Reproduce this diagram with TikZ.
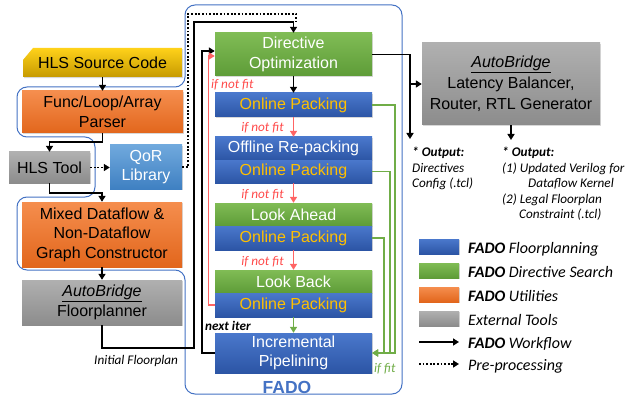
\documentclass[tikz,border=0pt]{standalone}
\usepackage{fontspec}
\setmainfont{Liberation Sans}
\newfontfamily\carl{Carlito}
\usetikzlibrary{arrows.meta,shadows}
\definecolor{fblueA}{HTML}{4A78CC}
\definecolor{fblueB}{HTML}{2C55A5}
\definecolor{fgreenA}{HTML}{80BC55}
\definecolor{fgreenB}{HTML}{5E9C38}
\definecolor{forangeA}{HTML}{F58E4E}
\definecolor{forangeB}{HTML}{E2661C}
\definecolor{fgrayA}{HTML}{B0B0B0}
\definecolor{fgrayB}{HTML}{8C8C8C}
\definecolor{fyellowA}{HTML}{FFD21A}
\definecolor{fyellowB}{HTML}{C69A00}
\definecolor{fqorA}{HTML}{70A9DD}
\definecolor{fqorB}{HTML}{3F80C2}
\definecolor{fgold}{HTML}{FFC000}
\definecolor{fred}{HTML}{FF6464}
\definecolor{fredtxt}{HTML}{FF4B4B}
\definecolor{fgreenline}{HTML}{70AD47}
\definecolor{foutline}{HTML}{4472C4}
\tikzset{
  boxtxt/.style 2 args={rectangle, inner sep=0pt, minimum width=#1pt, minimum height=#2pt,
    align=center, font=\fontsize{16}{19.5}\selectfont},
  box/.style 2 args={boxtxt={#1}{#2},
    drop shadow={opacity=0.3, shadow xshift=1.2pt, shadow yshift=-1.2pt}},
  fbluebox/.style={top color=fblueA, bottom color=fblueB, text=white},
  fgoldbox/.style={top color=fblueA, bottom color=fblueB, text=fgold},
  fgreenbox/.style={top color=fgreenA, bottom color=fgreenB, text=white},
  forangebox/.style={top color=forangeA, bottom color=forangeB, text=black},
  fgraybox/.style={top color=fgrayA, bottom color=fgrayB, text=black},
  fqorbox/.style={top color=fqorA, bottom color=fqorB, text=white},
  flow/.style={line width=1.8pt, -{Triangle[length=6pt,width=7pt]}},
  dotline/.style={line width=1.8pt, dash pattern=on 1.8pt off 1.8pt},
  dotflow/.style={dotline, -{Triangle[length=6pt,width=7pt]}},
  redflow/.style={line width=1.5pt, fred, -{Triangle[length=6pt,width=7pt]}},
  gflow/.style={line width=1.8pt, fgreenline, -{Triangle[length=6pt,width=7pt]}},
  lbl/.style={inner sep=0pt, font=\carl\itshape\fontsize{13.2}{15}\selectfont},
  outtext/.style={anchor=north west, align=left, inner sep=0pt, font=\carl\itshape\fontsize{13.2}{15.5}\selectfont},
  lgtext/.style={anchor=base west, inner sep=0pt, font=\carl\itshape\fontsize{16}{19}\selectfont},
}
\begin{document}
\begin{tikzpicture}[x=1pt, y=-1pt]
\useasboundingbox[fill=white] (0,0) rectangle (628,398);

% FADO outline
\draw[foutline, line width=1pt, rounded corners=10pt]
  (185,5) -- (402,5) -- (402,394) -- (185,394) -- (185,270) -- (17,270)
  -- (17,197) -- (95,197) -- (95,137) -- (17,137) -- (17,87) -- (185,87) -- cycle;
\node[font=\bfseries\fontsize{17.5}{20}\selectfont, text=foutline, anchor=base, inner sep=0pt] (fado) at (287,393) {FADO};

% left column
\path[top color=fyellowA, bottom color=fyellowB, drop shadow={opacity=0.3, shadow xshift=1.2pt, shadow yshift=-1.2pt}]
  (33,48) -- (182,48) -- (182,77) -- (23,77) -- (23,60) -- cycle;
\node[boxtxt={159}{29}, text=black] (src) at (102.5,62.5) {HLS Source Code};
\node[box={161}{42}, forangebox] (parser) at (102.5,112) {Func/Loop/Array\\Parser};
\node[box={81}{31}, fgraybox] (hlstool) at (49.5,167.5) {HLS Tool};
\node[box={72}{44}, fqorbox] (qor) at (146,167) {QoR\\Library};
\node[box={160}{65}, forangebox] (mixed) at (102,234.5) {Mixed Dataflow \&\\Non-Dataflow\\Graph Constructor};
\node[box={160}{45}, fgraybox] (abfp) at (102,302.5) {\underline{\textit{AutoBridge}}\\Floorplanner};

% FADO column
\node[box={157}{43}, fgreenbox] (dopt) at (293.5,54.5) {Directive\\Optimization};
\node[box={157}{24}, fgoldbox] (op1) at (293.5,105) {Online Packing};
\node[box={157}{23}, fbluebox] (orp) at (293.5,148.5) {Offline Re-packing};
\node[box={157}{23}, fgoldbox] (op2) at (293.5,171.5) {Online Packing};
\node[box={157}{23}, fgreenbox] (la) at (293.5,214.5) {Look Ahead};
\node[box={157}{24}, fgoldbox] (op3) at (293.5,238) {Online Packing};
\node[box={157}{23}, fgreenbox] (lb) at (293.5,281.5) {Look Back};
\node[box={157}{24}, fgoldbox] (op4) at (293.5,305) {Online Packing};
\node[box={157}{40}, fbluebox] (ip) at (293.5,353) {Incremental\\Pipelining};

% right box
\node[box={178}{82}, fgraybox, font=\fontsize{16}{21}\selectfont] (ab) at (511,84) {\underline{\textit{AutoBridge}}\\Latency Balancer,\\Router, RTL Generator};

% left column connectors
\draw[flow] (src) -- (parser);
\draw[flow] (parser.south) -- (102.5,142) -- (49.5,142) -- (hlstool.north);
\draw[dotflow] (hlstool.east) -- (qor.west |- hlstool.east);
\draw[flow] (hlstool.south) -- (49.5,193) -- (102,193) -- (mixed.north);
\draw[flow] (mixed) -- (abfp);
\draw[flow] (abfp.south) -- (102,348) -- (194,348) -- (194,22) -- (293.5,22) -- (dopt.north);
\node[lbl, anchor=base west] (initfp) at (94,364) {Initial Floorplan};
\draw[dotline] (qor.east) -- (188,167) -- (188,14) -- (296,14) -- (296,22);

% FADO column connectors
\draw[flow] (dopt) -- (op1);
\draw[redflow] (op1) -- (orp);
\draw[redflow] (op2) -- (la);
\draw[redflow] (op3) -- (lb);
\draw[gflow] (op4) -- (ip);
\node[lbl, text=fredtxt, anchor=base east] (nf1) at (284,132) {if not fit};
\node[lbl, text=fredtxt, anchor=base east] (nf2) at (284,198.5) {if not fit};
\node[lbl, text=fredtxt, anchor=base east] (nf3) at (284,265) {if not fit};
\node[lbl, text=fredtxt, anchor=base west] (nf0) at (211,89) {if not fit};

\draw[flow] (ip.west) -- (202,353) -- (202,51) -- (dopt.west |- 0,51);
\draw[redflow] (op4.west) -- (208.5,305) -- (208.5,56) -- (dopt.west |- 0,56);
\node[lbl, font=\carl\bfseries\itshape\fontsize{13.2}{15}\selectfont, anchor=base west] (nextiter) at (205,330) {next iter};

\draw[gflow] (op1.east) -- (395,105) -- (395,353) -- (ip.east);
\draw[gflow] (op2.east) -- (390,171.5) -- (390,353) -- (ip.east);
\draw[gflow] (op3.east) -- (384,238) -- (384,353) -- (ip.east);
\node[lbl, text=fgreenline, anchor=base west] (iffit) at (374,372) {if fit};

% outputs
\coordinate (o1arr) at (410,139);
\coordinate (br) at (410,84);
\coordinate (o2arr) at (511,140);
\draw[flow] (dopt.east) -- (410,54.5) -- (o1arr);
\draw[flow] (br) -- (ab.west);
\draw[flow] (ab.south) -- (o2arr);
\node[outtext] (out1) at (412,147) {\textbf{* Output:}\\Directives\\Config (.tcl)};
\node[outtext] (out2) at (502,147) {\textbf{* Output:}\\(1) Updated Verilog for\\\hspace*{26pt}Dataflow Kernel\\(2) Legal Floorplan\\\hspace*{17pt}Constraint (.tcl)};

% legend
\node[box={40}{15}, fbluebox] (lg1) at (439,246.5) {};
\node[box={40}{15}, fgreenbox] (lg2) at (439,270.5) {};
\node[box={40}{15}, forangebox] (lg3) at (439,294.5) {};
\node[box={40}{15}, fgraybox] (lg4) at (439,318.5) {};
\coordinate (lwa) at (419,342); \coordinate (lwb) at (459,342);
\coordinate (lda) at (419,364); \coordinate (ldb) at (459,364);
\draw[flow] (lwa) -- (lwb);
\draw[dotflow] (lda) -- (ldb);
\node[lgtext] (lt1) at (468,253) {\textbf{FADO} Floorplanning};
\node[lgtext] (lt2) at (468,277) {\textbf{FADO} Directive Search};
\node[lgtext] (lt3) at (468,301) {\textbf{FADO} Utilities};
\node[lgtext] (lt4) at (468,325) {External Tools};
\node[lgtext] (lt5) at (468,348) {\textbf{FADO} Workflow};
\node[lgtext] (lt6) at (468,370) {Pre-processing};
\end{tikzpicture}
\end{document}
